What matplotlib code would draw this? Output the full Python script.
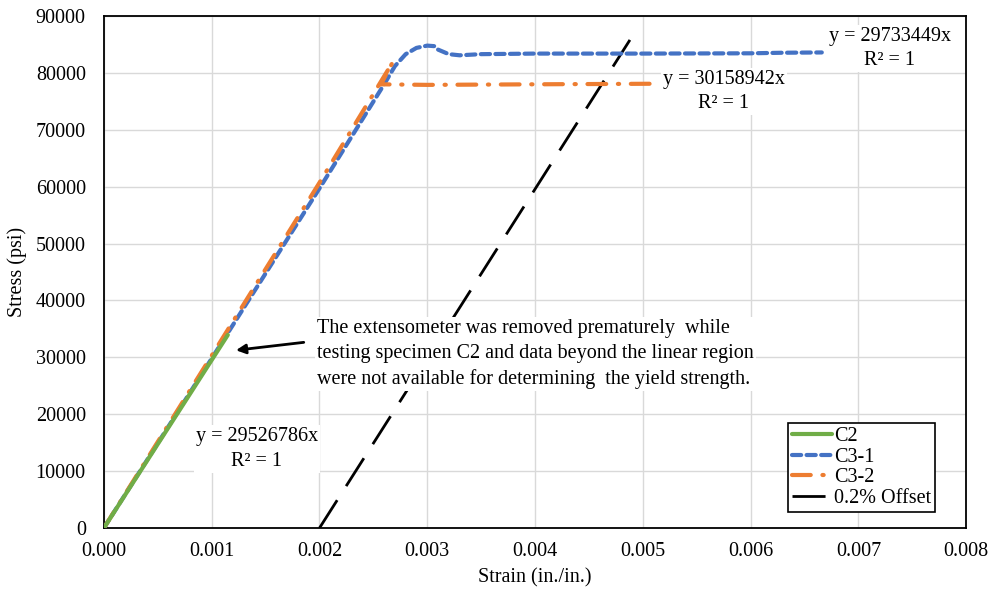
import matplotlib
matplotlib.use("Agg")
import matplotlib.pyplot as plt
import numpy as np

plt.rcParams['font.family'] = ['Liberation Serif', 'DejaVu Serif']

# C2 (green, solid)
c2_strain = [0.0, 0.00115]
c2_stress = [0, 33950]

# C3-1 (blue, dashed)
c31_strain = [0.0, 0.0010, 0.0020, 0.0026, 0.0027, 0.0028, 0.0029, 0.0030, 0.00307, 0.0031,
              0.0032, 0.0033, 0.0035, 0.0040, 0.0050, 0.0060, 0.0063, 0.00666]
c31_stress = [0, 29800, 59700, 78000, 81200, 83300, 84400, 84800, 84700, 84100,
              83300, 83100, 83300, 83400, 83400, 83450, 83550, 83600]

# C3-2 (orange, dash-dot)
c32_strain = [0.0, 0.0010, 0.0020, 0.00268, 0.00257, 0.0030, 0.0040, 0.0051]
c32_stress = [0, 30300, 60700, 81900, 78000, 77900, 78000, 78100]

# 0.2% offset line (black, dashed)
off_strain = [0.0020, 0.00488]
off_stress = [0, 85800]

FS = 14.5

fig = plt.figure(figsize=(9.89, 5.94), dpi=100)
ax = fig.add_axes([0.105, 0.111, 0.872, 0.862])

ax.plot(c2_strain, c2_stress, color='#70AD47', lw=3.0, label='C2', zorder=5,
        solid_capstyle='round')
ax.plot(c31_strain, c31_stress, color='#4472C4', lw=3.0, label='C3-1',
        dashes=(2.2, 1.3), dash_capstyle='round', zorder=3)
ax.plot(c32_strain, c32_stress, color='#ED7D31', lw=3.0, label='C3-2',
        dashes=(4.5, 2.8, 0.3, 2.8), dash_capstyle='round', zorder=4)
ax.plot(off_strain, off_stress, color='black', lw=2.0, label='0.2% Offset',
        dashes=(11.9, 6), zorder=2)

ax.set_xlim(0, 0.008)
ax.set_ylim(0, 90000)
ax.set_xticks(np.arange(0, 0.0081, 0.001))
ax.set_xticklabels([f"{v:.3f}" for v in np.arange(0, 0.0081, 0.001)])
ax.set_yticks(np.arange(0, 90001, 10000))
ax.set_yticklabels([f"{int(v)}" for v in np.arange(0, 90001, 10000)])
ax.tick_params(axis='x', length=0, labelsize=FS, pad=10)
ax.tick_params(axis='y', length=0, labelsize=FS, pad=13)
ax.grid(True, color='#D9D9D9', lw=1.0)
ax.set_axisbelow(True)
for s in ax.spines.values():
    s.set_color('black')
    s.set_linewidth(1.3)

ax.set_xlabel('Strain (in./in.)', fontsize=FS, labelpad=5)
ax.set_ylabel('Stress (psi)', fontsize=FS, labelpad=6)

box = dict(facecolor='white', edgecolor='none', pad=1.5)
ax.text(0.00142, 13900, "y = 29526786x\nR² = 1", ha='center', va='center',
        fontsize=FS, linespacing=1.36, bbox=box, zorder=6)
ax.text(0.00575, 76700, "y = 30158942x\nR² = 1", ha='center', va='center',
        fontsize=FS, linespacing=1.36, bbox=box, zorder=6)
ax.text(0.00729, 84270, "y = 29733449x\nR² = 1", ha='center', va='center',
        fontsize=FS, linespacing=1.36, bbox=box, zorder=6)

ax.text(0.00198, 30600,
        "The extensometer was removed prematurely  while\n"
        "testing specimen C2 and data beyond the linear region\n"
        "were not available for determining  the yield strength.",
        ha='left', va='center', fontsize=FS, linespacing=1.45, bbox=box, zorder=6)
ax.annotate("", xy=(0.00120, 31200), xytext=(0.00188, 32700),
            arrowprops=dict(arrowstyle='-|>', color='black', lw=2.0,
                            mutation_scale=14), zorder=7)

leg = ax.legend(loc='lower right', bbox_to_anchor=(0.964, 0.031), fontsize=FS,
                frameon=True, fancybox=False, edgecolor='black', framealpha=1,
                handlelength=2.0, handletextpad=0.08, borderpad=0.2,
                labelspacing=0.08, borderaxespad=0)
leg.get_frame().set_linewidth(1.2)

fig.savefig('out.png', dpi=100)
